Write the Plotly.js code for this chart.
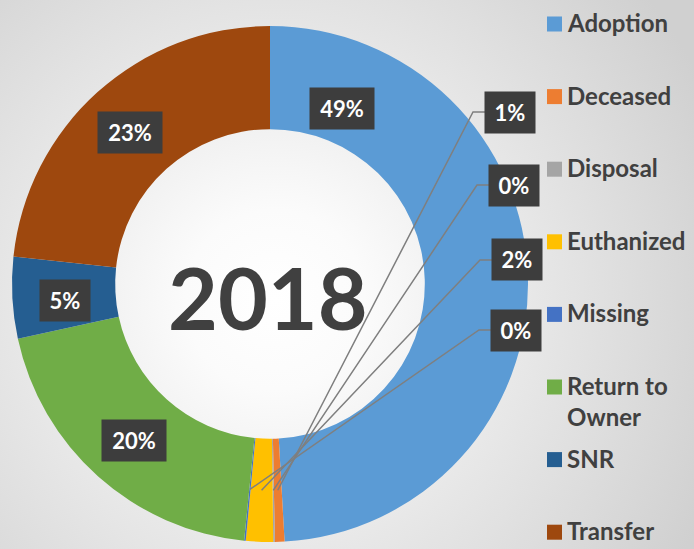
<!DOCTYPE html>
<html>
<head>
<meta charset="utf-8">
<script src="https://cdn.plot.ly/plotly-3.0.1.min.js"></script>
<style>
  html, body { margin: 0; padding: 0; }
  #chart {
    width: 694px; height: 549px;
    background: radial-gradient(circle at 275px 300px, #ffffff 0px, #fbfbfb 90px, #e8e8e8 250px, #d0d0d0 480px);
  }
</style>
</head>
<body>
<div id="chart"></div>
<script>
// outcomes 2018 (share of total)
const categories = ['Adoption', 'Deceased', 'Disposal', 'Euthanized', 'Missing', 'Return to Owner', 'SNR', 'Transfer'];
const legendNames = ['Adoption', 'Deceased', 'Disposal', 'Euthanized', 'Missing', 'Return to<br>Owner', 'SNR', 'Transfer'];
const shares = [49.1, 0.6, 0.1, 1.7, 0.1, 20.0, 5.1, 23.3];
const colors = ['#5B9BD5', '#ED7D31', '#A5A5A5', '#FFC000', '#4472C4', '#70AD47', '#255E91', '#9E480E'];
const yearLabel = '2018';

// where the data labels sit (px, box centre)
const labelX = [342, 510, 514, 517, 516, 134, 65, 130];
const labelY = [108, 112, 185, 260, 330, 440, 300, 132];
const leaderIdx = [1, 2, 3, 4];

const W = 694, H = 549;
const cx = 270, cy = 284, R = 258, hole = 0.6;
const px = x => x / W;
const py = y => 1 - y / H;

const total = shares.reduce((s, v) => s + v, 0);
const pctText = shares.map(v => Math.round(v / total * 100) + '%');

const trace = {
  type: 'pie',
  labels: categories,
  values: shares,
  sort: false,
  direction: 'clockwise',
  rotation: 0,
  hole: hole,
  textinfo: 'none',
  hoverinfo: 'label+percent',
  marker: { colors: colors, line: { width: 0 } },
  domain: { x: [px(cx - R), px(cx + R)], y: [py(cy + R), py(cy - R)] },
  showlegend: false
};

const annotations = [];
const shapes = [];

// percent boxes
pctText.forEach((t, i) => {
  annotations.push({
    xref: 'paper', yref: 'paper',
    x: px(labelX[i]), y: py(labelY[i]),
    xanchor: 'center', yanchor: 'middle',
    text: t, showarrow: false,
    font: { family: 'Lato', size: 22, color: '#ffffff', weight: 700 },
    bgcolor: '#3d3d3d',
    width: t.length > 2 ? 62 : 48, height: 39, borderpad: 1
  });
});

// leader lines for the thin slices
let cum = 0;
const mids = shares.map(v => { const m = cum + v / 2; cum += v; return m / total; });
const rMid = R * (1 + hole) / 2;
leaderIdx.forEach(i => {
  const a = mids[i] * 2 * Math.PI;
  const hx = cx + rMid * Math.sin(a);
  const hy = cy - rMid * Math.cos(a);
  const boxLeft = labelX[i] - 25;
  shapes.push({
    type: 'path', xref: 'paper', yref: 'paper',
    path: `M ${px(hx)} ${py(hy)} L ${px(boxLeft - 12)} ${py(labelY[i])} L ${px(boxLeft)} ${py(labelY[i])}`,
    line: { color: '#7f7f7f', width: 1.5 }
  });
});

// centre year
annotations.push({
  xref: 'paper', yref: 'paper', x: px(268), y: py(296),
  xanchor: 'center', yanchor: 'middle', showarrow: false,
  text: yearLabel,
  font: { family: 'Lato', size: 86, color: '#404040', weight: 700 }
});

// legend on the right
categories.forEach((c, i) => {
  const ly = 24 + i * 72.6;
  shapes.push({
    type: 'rect', xref: 'paper', yref: 'paper',
    x0: px(547), x1: px(562), y0: py(ly - 7.5), y1: py(ly + 7.5),
    fillcolor: colors[i], line: { width: 0 }
  });
  annotations.push({
    xref: 'paper', yref: 'paper', x: px(566), y: py(ly - 17),
    xanchor: 'left', yanchor: 'top', align: 'left', showarrow: false,
    text: legendNames[i], borderpad: 0,
    font: { family: 'Lato', size: 24, color: '#404040', weight: 700 }
  });
});

const layout = {
  width: W, height: H,
  margin: { l: 0, r: 0, t: 0, b: 0 },
  paper_bgcolor: 'rgba(0,0,0,0)',
  plot_bgcolor: 'rgba(0,0,0,0)',
  annotations: annotations,
  shapes: shapes
};

Plotly.newPlot('chart', [trace], layout, { displayModeBar: false });
</script>
</body>
</html>
